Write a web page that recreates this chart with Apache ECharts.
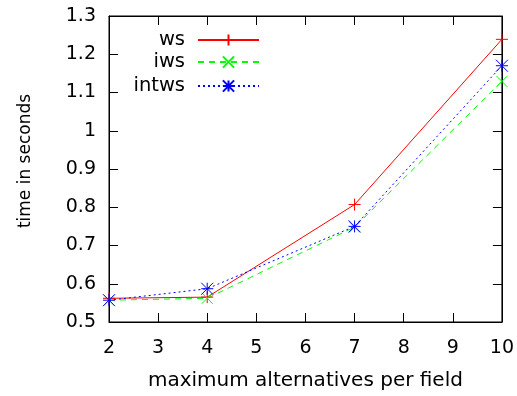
<!DOCTYPE html>
<html><head><meta charset="utf-8">
<script src="https://cdn.jsdelivr.net/npm/echarts@6/dist/echarts.min.js"></script>
<style>html,body{margin:0;padding:0;background:#fff}#c{width:517px;height:396px}</style>
</head><body><div id="c"></div>
<script>
const xValues = [2, 4, 7, 10];
const wsValues = [0.562, 0.565, 0.807, 1.239];
const iwsValues = [0.557, 0.562, 0.748, 1.129];
const intwsValues = [0.557, 0.587, 0.750, 1.170];
const seriesNames = ['ws', 'iws', 'intws'];
const xAxisTitle = 'maximum alternatives per field';
const yAxisTitle = 'time in seconds';

const FONT = 'DejaVu Sans';
const PLUS = 'path://M0,-1L0,1M-1,0L1,0';
const CROSS = 'path://M-1,-1L1,1M-1,1L1,-1';
const STAR = 'path://M0,-1L0,1M-1,0L1,0M-1,-1L1,1M-1,1L1,-1';

function pairs(vals) { return xValues.map((x, i) => [x, vals[i]]); }

const chart = echarts.init(document.getElementById('c'), null, {renderer: 'canvas'});
const tickStyle = {show: true, inside: true, length: 9, lineStyle: {color: '#000', width: 1}};
const mkLegend = (name, top) => ({
  data: [name], orient: 'vertical', right: 257, top: top, align: 'right',
  itemWidth: 61, itemHeight: 14, itemGap: 0, padding: 0,
  textStyle: {fontFamily: FONT, fontSize: 19.5, color: '#000', padding: [0, 8, 0, 0]}
});
chart.setOption({
  animation: false,
  grid: {left: 109, right: 15, top: 16, bottom: 72, show: true, borderColor: '#000', borderWidth: 1, containLabel: false},
  legend: [mkLegend('ws', 30), mkLegend('iws', 52), mkLegend('intws', 76)],
  xAxis: [{
    type: 'value', min: 2, max: 10, interval: 1,
    name: xAxisTitle, nameLocation: 'middle', nameGap: 49,
    nameTextStyle: {fontFamily: FONT, fontSize: 20, color: '#000'},
    axisLine: {show: true, lineStyle: {color: '#000', width: 1}},
    axisTick: tickStyle, splitLine: {show: false},
    axisLabel: {fontFamily: FONT, fontSize: 19, color: '#000', margin: 17}
  }, {
    type: 'value', min: 2, max: 10, interval: 1, position: 'top',
    axisLine: {show: true, lineStyle: {color: '#000'}}, axisTick: tickStyle,
    axisLabel: {show: false}, splitLine: {show: false}
  }],
  yAxis: [{
    type: 'value', min: 0.5, max: 1.3, interval: 0.1,
    name: yAxisTitle, nameLocation: 'middle', nameGap: 75, nameRotate: 90,
    nameTextStyle: {fontFamily: FONT, fontSize: 17, color: '#000', padding: [0, 0, 0, 16]},
    axisLine: {show: true, lineStyle: {color: '#000', width: 1}},
    axisTick: tickStyle, splitLine: {show: false},
    axisLabel: {fontFamily: FONT, fontSize: 19, color: '#000', margin: 13,
      formatter: v => String(Math.round(v * 10) / 10)}
  }, {
    type: 'value', min: 0.5, max: 1.3, interval: 0.1, position: 'right',
    axisLine: {show: true, lineStyle: {color: '#000'}}, axisTick: tickStyle,
    axisLabel: {show: false}, splitLine: {show: false}
  }],
  series: [{
    name: seriesNames[0], type: 'line', data: pairs(wsValues),
    symbol: PLUS, symbolSize: 12, showAllSymbol: true,
    lineStyle: {color: '#ff0000', width: 1, type: 'solid'},
    itemStyle: {color: '#ff0000', borderColor: '#ff0000', borderWidth: 1}
  }, {
    name: seriesNames[1], type: 'line', data: pairs(iwsValues),
    symbol: CROSS, symbolSize: 11,
    lineStyle: {color: '#00ff00', width: 1, type: [6, 5]},
    itemStyle: {color: '#00ff00', borderColor: '#00ff00', borderWidth: 1}
  }, {
    name: seriesNames[2], type: 'line', data: pairs(intwsValues),
    symbol: STAR, symbolSize: 12,
    lineStyle: {color: '#0000ff', width: 1, type: [2, 3]},
    itemStyle: {color: '#0000ff', borderColor: '#0000ff', borderWidth: 1}
  }]
});
</script></body></html>
